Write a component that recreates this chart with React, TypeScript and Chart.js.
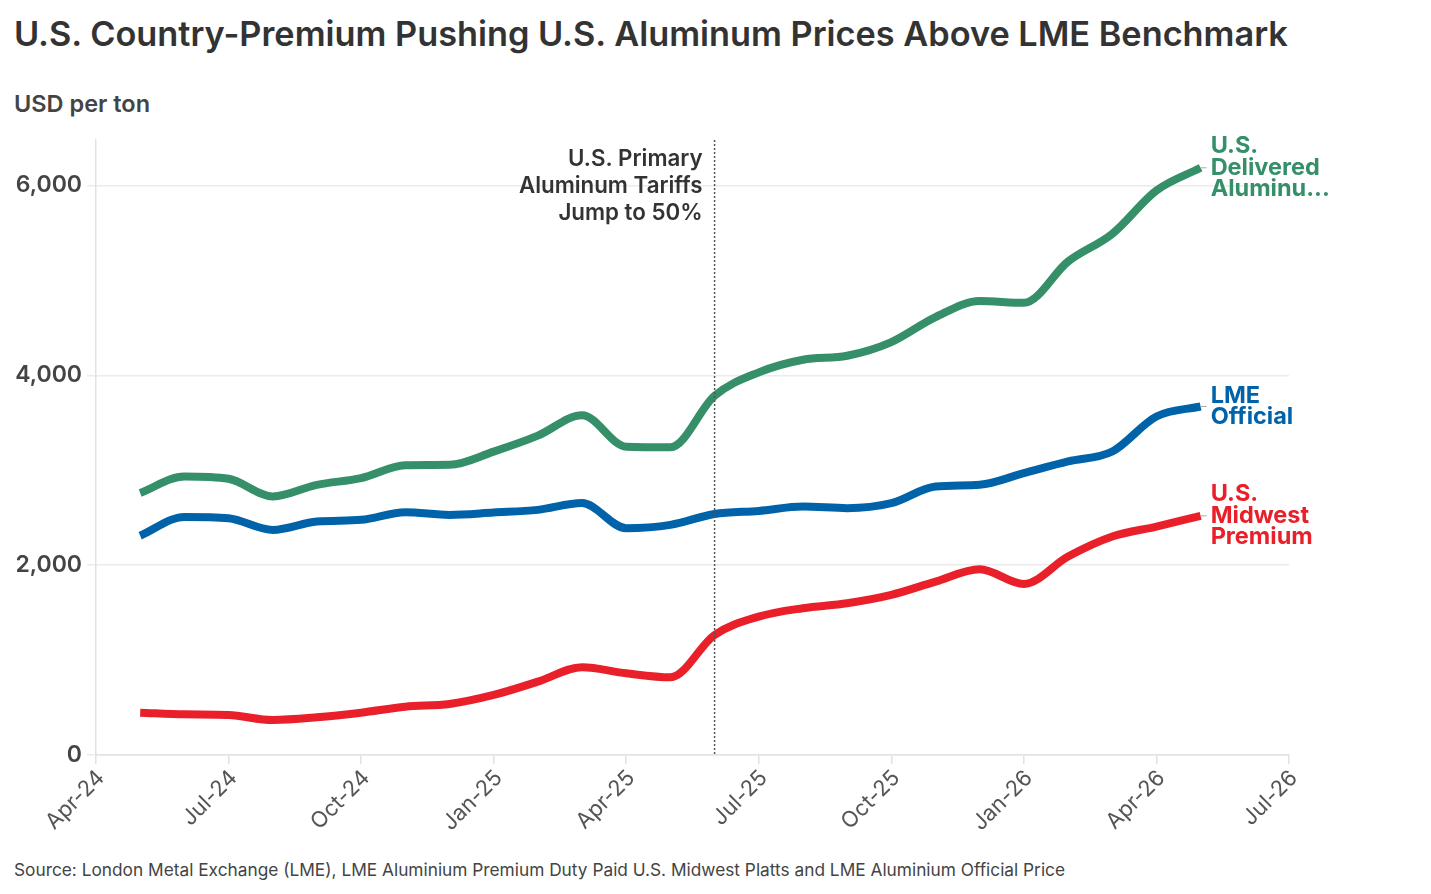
import React, { useEffect, useRef } from 'react';
import { Chart, registerables } from 'chart.js';

Chart.register(...registerables);

const FONT = 'Inter, "Noto Sans", sans-serif';

const title = 'U.S. Country-Premium Pushing U.S. Aluminum Prices Above LME Benchmark';
const unitLabel = 'USD per ton';
const sourceNote =
  'Source: London Metal Exchange (LME), LME Aluminium Premium Duty Paid U.S. Midwest Platts and LME Aluminium Official Price';

// quarterly axis labels, Apr-24 .. Jul-26
const axisLabels = ['Apr-24', 'Jul-24', 'Oct-24', 'Jan-25', 'Apr-25', 'Jul-25', 'Oct-25', 'Jan-26', 'Apr-26', 'Jul-26'];
const yTicks = [0, 2000, 4000, 6000];

// monthly observations
const months = [
  'May-24', 'Jun-24', 'Jul-24', 'Aug-24', 'Sep-24', 'Oct-24', 'Nov-24', 'Dec-24',
  'Jan-25', 'Feb-25', 'Mar-25', 'Apr-25', 'May-25', 'Jun-25', 'Jul-25', 'Aug-25',
  'Sep-25', 'Oct-25', 'Nov-25', 'Dec-25', 'Jan-26', 'Feb-26', 'Mar-26', 'Apr-26', 'May-26',
];
const delivered = [
  2760, 2935, 2910, 2725, 2847, 2918, 3053, 3057, 3197, 3365, 3580, 3249, 3243,
  3785, 4032, 4165, 4207, 4351, 4614, 4783, 4764, 5200, 5492, 5948, 6187,
];
const lmeOfficial = [
  2310, 2509, 2495, 2372, 2460, 2478, 2559, 2530, 2555, 2583, 2654, 2390, 2425,
  2539, 2572, 2618, 2601, 2654, 2829, 2847, 2970, 3093, 3198, 3567, 3672,
];
const midwestPremium = [
  446, 429, 422, 369, 397, 446, 509, 538, 633, 773, 925, 861, 819,
  1265, 1458, 1547, 1599, 1687, 1827, 1957, 1803, 2091, 2302, 2407, 2520,
];

const tariffMonth = 'Jun-25';
const tariffNote = ['U.S. Primary', 'Aluminum Tariffs', 'Jump to 50%'];

const series = [
  { name: ['U.S.', 'Delivered', 'Aluminu...'], values: delivered, color: '#358f69' },
  { name: ['LME', 'Official'], values: lmeOfficial, color: '#0063a9' },
  { name: ['U.S.', 'Midwest', 'Premium'], values: midwestPremium, color: '#e92029' },
];

const MON = ['Jan', 'Feb', 'Mar', 'Apr', 'May', 'Jun', 'Jul', 'Aug', 'Sep', 'Oct', 'Nov', 'Dec'];
// months since Apr-24
const monthIndex = (m: string) => {
  const [mm, yy] = m.split('-');
  return MON.indexOf(mm) - 3 + (Number(yy) - 24) * 12;
};

const labelsPlugin = {
  id: 'notes',
  afterDatasetsDraw(chart: any) {
    const { ctx, chartArea, scales } = chart;
    ctx.save();
    // tariff marker
    const tx = scales.x.getPixelForValue(monthIndex(tariffMonth));
    ctx.strokeStyle = '#555';
    ctx.lineWidth = 1.5;
    ctx.setLineDash([2, 2]);
    ctx.beginPath();
    ctx.moveTo(tx, chartArea.top);
    ctx.lineTo(tx, chartArea.bottom);
    ctx.stroke();
    ctx.setLineDash([]);
    ctx.fillStyle = '#333';
    ctx.font = `600 22.3px ${FONT}`;
    ctx.textAlign = 'right';
    ctx.textBaseline = 'middle';
    tariffNote.forEach((t, i) => ctx.fillText(t, tx - 12, chartArea.top + 19 + i * 27));

    // series end labels
    chart.data.datasets.forEach((ds: any, di: number) => {
      const meta = chart.getDatasetMeta(di);
      const pt = meta.data[meta.data.length - 1];
      const lines: string[] = series[di].name;
      ctx.strokeStyle = '#aaa';
      ctx.lineWidth = 1;
      ctx.beginPath();
      ctx.moveTo(pt.x, pt.y);
      ctx.lineTo(pt.x + 6, pt.y);
      ctx.stroke();
      ctx.fillStyle = ds.borderColor;
      ctx.font = `700 23.5px ${FONT}`;
      ctx.textAlign = 'left';
      const lh = 21.5;
      const y0 = pt.y - ((lines.length - 1) * lh) / 2;
      lines.forEach((t, i) => ctx.fillText(t, pt.x + 10, y0 + i * lh));
    });
    ctx.restore();
  },
};

const AluminumChart: React.FC = () => {
  const canvasRef = useRef<HTMLCanvasElement>(null);

  useEffect(() => {
    if (!canvasRef.current) return;
    const chart = new Chart(canvasRef.current, {
      type: 'line',
      data: {
        datasets: series.map((s) => ({
          label: s.name.join(' '),
          data: months.map((m, i) => ({ x: monthIndex(m), y: s.values[i] })),
          borderColor: s.color,
          backgroundColor: s.color,
          borderWidth: 8,
          borderCapStyle: 'butt',
          pointRadius: 0,
          cubicInterpolationMode: 'monotone',
        })),
      },
      options: {
        responsive: false,
        animation: false,
        layout: { padding: { top: 20, right: 142, left: 0, bottom: 0 } },
        plugins: { legend: { display: false }, tooltip: { enabled: false } },
        scales: {
          x: {
            type: 'linear',
            min: 0,
            max: 27,
            afterFit: (s: any) => {
              s.height = 95;
            },
            ticks: {
              stepSize: 3,
              autoSkip: false,
              minRotation: 45,
              maxRotation: 45,
              padding: 1,
              labelOffset: 5,
              color: '#555',
              font: { family: FONT, size: 22 },
              callback: (v: any) => axisLabels[Math.round(v / 3)] ?? '',
            },
            grid: { drawOnChartArea: false, tickLength: 9, color: '#e2e2e2', lineWidth: 1.5 },
            border: { color: '#e2e2e2', width: 1.5 },
          },
          y: {
            min: 0,
            max: 6480,
            afterFit: (s: any) => {
              s.width = 96;
            },
            afterBuildTicks: (s: any) => {
              s.ticks = yTicks.map((v) => ({ value: v }));
            },
            ticks: {
              padding: 5,
              color: '#444',
              font: { family: FONT, size: 23, weight: 600 },
              callback: (v: any) => Number(v).toLocaleString('en-US'),
            },
            grid: { color: '#ebebeb', lineWidth: 1.5, tickLength: 9 },
            border: { color: '#e2e2e2', width: 1.5 },
          },
        },
      },
      plugins: [labelsPlugin],
    });
    return () => chart.destroy();
  }, []);

  return (
    <canvas
      ref={canvasRef}
      width={1431}
      height={730}
      style={{ position: 'absolute', left: 0, top: 120, width: 1431, height: 730 }}
    />
  );
};

export default function App() {
  return (
    <div style={{ position: 'absolute', left: 0, top: 0, width: 1431, height: 894, background: '#fff', fontFamily: FONT }}>
      <div style={{ position: 'absolute', left: 14, top: 14, fontSize: 34.3, lineHeight: '40px', fontWeight: 600, color: '#333', whiteSpace: 'nowrap' }}>
        {title}
      </div>
      <div style={{ position: 'absolute', left: 14, top: 90, fontSize: 23.5, lineHeight: '28px', fontWeight: 600, color: '#444' }}>
        {unitLabel}
      </div>
      <AluminumChart />
      <div style={{ position: 'absolute', left: 14, top: 858, fontSize: 17.3, lineHeight: '24px', color: '#444', whiteSpace: 'nowrap' }}>
        {sourceNote}
      </div>
    </div>
  );
}
